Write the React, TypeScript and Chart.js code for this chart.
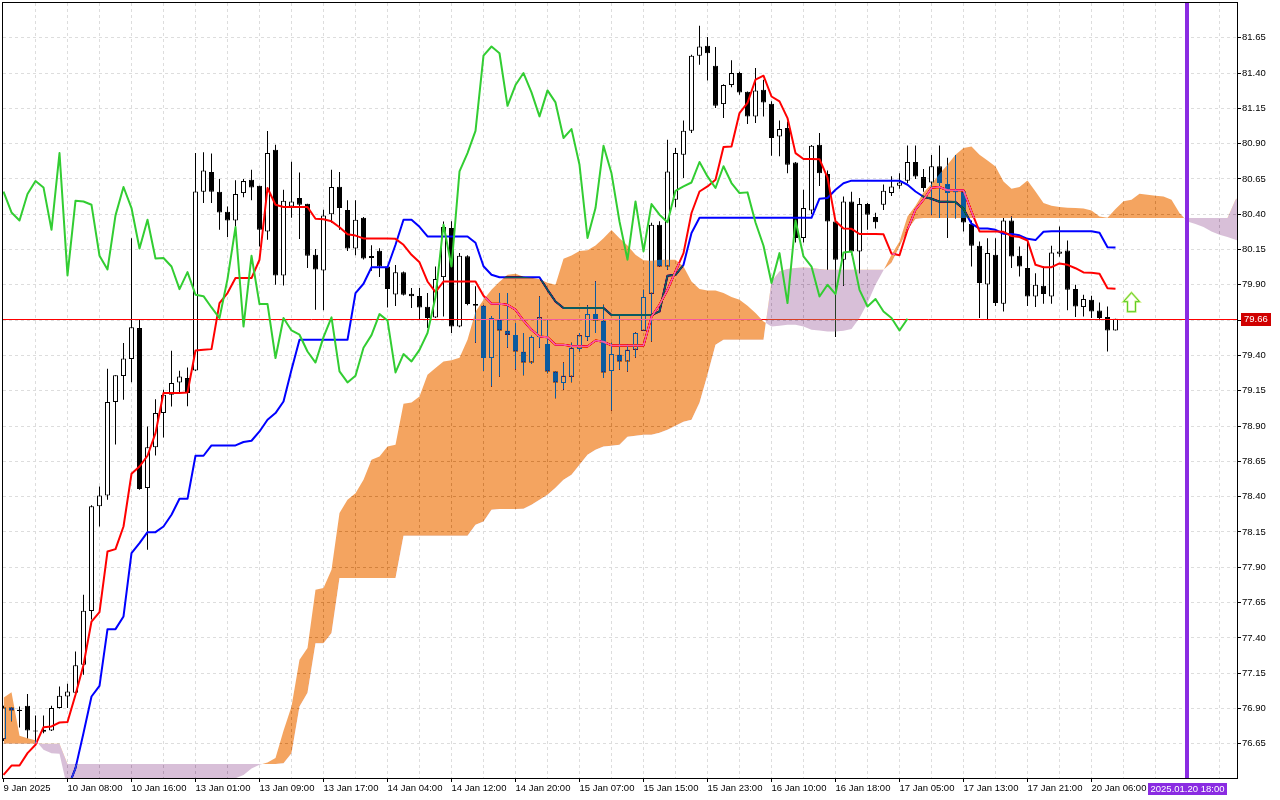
import React, { useEffect, useRef } from "react";
import { Chart, registerables } from "chart.js";

// ---------- data (hourly candles, index = bar number) ----------
const opens = [
  76.683, 76.907, 76.892, 76.919, 76.745, 76.735, 76.745, 76.903, 76.985, 77.012,
  77.21, 77.59, 78.333, 78.409, 79.07, 79.255, 79.375, 79.594, 78.461, 78.751,
  78.992, 79.122, 79.209, 79.24, 79.294, 80.56, 80.699, 80.56, 80.418, 80.356,
  80.55, 80.644, 80.602, 80.278, 80.857, 79.967, 80.455, 80.515, 80.474, 80.113,
  80.002, 80.4, 80.595, 80.43, 80.158, 80.375, 80.105, 80.142, 80.03, 79.832,
  79.99, 79.837, 79.822, 79.745, 79.669, 79.955, 80.302, 79.605, 80.103, 79.752,
  79.752, 79.382, 79.653, 79.575, 79.545, 79.426, 79.35, 79.53, 79.481, 79.287,
  79.205, 79.25, 79.445, 79.53, 79.693, 79.646, 79.29, 79.405, 79.357, 79.44,
  79.575, 79.837, 80.326, 80.03, 80.503, 80.821, 80.991, 81.523, 81.593, 81.452,
  81.18, 81.315, 81.4, 81.268, 81.093, 81.282, 81.183, 80.95, 81.01, 80.767,
  80.232, 80.427, 80.892, 80.685, 80.349, 80.078, 80.491, 80.137, 80.472, 80.38,
  80.467, 80.55, 80.602, 80.637, 80.77, 80.663, 80.625, 80.74, 80.614, 80.565,
  80.561, 80.333, 80.177, 79.903, 80.113, 79.766, 80.356, 80.106, 80.019, 79.818,
  79.894, 79.818, 80.12, 80.144, 79.87, 79.743, 79.794, 79.719, 79.672, 79.577,
];
const highs = [
  76.92, 76.91, 76.914, 77.002, 76.85, 76.85, 76.92, 77.056, 77.075, 77.304,
  77.705, 78.34, 78.472, 79.306, 79.26, 79.488, 80.23, 79.653, 78.897, 79.09,
  79.157, 79.433, 79.292, 79.315, 80.833, 80.84, 80.83, 80.65, 80.455, 80.64,
  80.65, 80.715, 80.602, 80.99, 80.892, 80.574, 80.772, 80.696, 80.475, 80.154,
  80.432, 80.715, 80.7, 80.5, 80.5, 80.38, 80.18, 80.16, 80.03, 80.04,
  79.995, 79.877, 79.877, 79.842, 80.03, 80.349, 80.35, 80.125, 80.11, 79.89,
  79.755, 79.68, 79.842, 79.842, 79.63, 79.56, 79.54, 79.818, 79.653, 79.29,
  79.35, 79.49, 79.56, 79.755, 79.925, 79.76, 79.49, 79.68, 79.477, 79.563,
  79.865, 80.34, 80.35, 80.928, 80.87, 81.064, 81.53, 81.735, 81.655, 81.584,
  81.32, 81.49, 81.41, 81.27, 81.435, 81.353, 81.2, 81.064, 81.057, 80.77,
  80.574, 80.89, 80.975, 80.71, 80.37, 80.526, 80.56, 80.515, 80.48, 80.41,
  80.61, 80.67, 80.69, 80.887, 80.887, 80.72, 80.82, 80.887, 80.8, 80.82,
  80.57, 80.355, 80.207, 80.23, 80.23, 80.373, 80.385, 80.172, 80.214, 79.983,
  80.03, 80.177, 80.314, 80.214, 79.9, 79.83, 79.823, 79.775, 79.746, 79.66,
];
const lows = [
  76.67, 76.81, 76.765, 76.69, 76.655, 76.725, 76.74, 76.9, 76.903, 77.009,
  77.139, 77.53, 78.189, 78.378, 78.77, 79.086, 79.21, 78.45, 78.024, 78.692,
  78.82, 79.039, 79.134, 79.04, 79.29, 80.48, 80.48, 80.29, 80.239, 80.3,
  80.52, 80.5, 80.172, 80.22, 79.9, 79.896, 80.375, 80.224, 80.019, 79.724,
  79.72, 80.34, 80.29, 80.14, 80.11, 80.08, 80.0, 79.955, 79.74, 79.75,
  79.825, 79.736, 79.653, 79.594, 79.665, 79.676, 79.559, 79.6, 79.755, 79.49,
  79.29, 79.18, 79.251, 79.455, 79.3, 79.26, 79.34, 79.455, 79.275, 79.098,
  79.157, 79.21, 79.43, 79.505, 79.56, 79.24, 79.01, 79.3, 79.287, 79.386,
  79.575, 79.499, 80.03, 80.007, 80.45, 80.656, 80.975, 81.459, 81.347, 81.152,
  81.081, 81.3, 81.246, 81.04, 81.046, 81.093, 80.814, 80.81, 80.69, 80.2,
  80.2, 80.4, 80.6, 80.007, 79.53, 79.894, 80.11, 79.983, 80.29, 80.3,
  80.43, 80.53, 80.58, 80.62, 80.65, 80.56, 80.396, 80.373, 80.232, 80.37,
  80.278, 80.03, 79.665, 79.653, 79.75, 79.712, 80.02, 79.96, 79.75, 79.743,
  79.766, 79.766, 80.1, 79.72, 79.672, 79.676, 79.665, 79.65, 79.428, 79.577,
];
const closes = [
  76.907, 76.886, 76.882, 76.744, 76.737, 76.75, 76.903, 76.99, 77.02, 77.207,
  77.592, 78.333, 78.409, 79.07, 79.26, 79.379, 79.6, 78.454, 78.751, 78.992,
  79.122, 79.205, 79.251, 79.134, 80.561, 80.71, 80.56, 80.413, 80.356, 80.543,
  80.635, 80.59, 80.29, 80.833, 79.967, 80.496, 80.49, 80.467, 80.106, 80.009,
  80.392, 80.593, 80.444, 80.158, 80.361, 80.087, 80.09, 80.03, 79.87, 79.99,
  79.83, 79.82, 79.74, 79.665, 79.941, 80.309, 79.605, 80.106, 79.764, 79.765,
  79.382, 79.665, 79.577, 79.547, 79.428, 79.35, 79.53, 79.67, 79.287, 79.209,
  79.256, 79.455, 79.544, 79.693, 79.648, 79.28, 79.41, 79.358, 79.44, 79.559,
  79.814, 80.326, 80.03, 80.703, 80.833, 80.991, 81.523, 81.588, 81.54, 81.168,
  81.315, 81.4, 81.263, 81.093, 81.277, 81.192, 80.94, 81.003, 80.75, 80.232,
  80.444, 80.885, 80.69, 80.349, 80.078, 80.491, 80.137, 80.472, 80.397, 80.344,
  80.566, 80.597, 80.625, 80.77, 80.668, 80.586, 80.74, 80.621, 80.55, 80.555,
  80.342, 80.177, 79.913, 80.125, 79.771, 80.356, 80.101, 80.03, 79.818, 79.901,
  79.835, 80.13, 80.137, 79.865, 79.747, 79.8, 79.712, 79.665, 79.577, 79.66,
];
// Tenkan-sen (red)
const tenkan = [
  76.43, 76.496, 76.496, 76.584, 76.643, 76.768, 76.773, 76.801, 76.804, 76.997,
  77.209, 77.516, 77.583, 78.012, 78.029, 78.189, 78.562, 78.614, 78.69, 78.85,
  79.134, 79.134, 79.134, 79.138, 79.435, 79.44, 79.445, 79.771, 79.842, 79.948,
  79.948, 79.948, 80.078, 80.586, 80.467, 80.451, 80.451, 80.451, 80.451, 80.368,
  80.365, 80.35, 80.308, 80.258, 80.249, 80.229, 80.229, 80.229, 80.229, 80.226,
  80.184, 80.113, 80.06, 79.924, 79.848, 79.924, 79.924, 79.924, 79.924, 79.924,
  79.823, 79.766, 79.766, 79.759, 79.724, 79.647, 79.582, 79.535, 79.529, 79.476,
  79.476, 79.467, 79.465, 79.464, 79.506, 79.497, 79.471, 79.471, 79.471, 79.471,
  79.471, 79.674, 79.759, 79.865, 79.996, 80.125, 80.409, 80.561, 80.597, 80.644,
  80.876, 80.88, 81.117, 81.188, 81.353, 81.381, 81.234, 81.199, 81.081, 80.833,
  80.791, 80.791, 80.79, 80.659, 80.35, 80.299, 80.297, 80.26, 80.26, 80.26,
  80.258, 80.122, 80.11, 80.29, 80.432, 80.503, 80.588, 80.593, 80.57, 80.57,
  80.57, 80.418, 80.278, 80.278, 80.278, 80.276, 80.246, 80.239, 80.214, 80.042,
  80.025, 80.025, 80.052, 80.042, 80.018, 79.988, 79.986, 79.979, 79.876, 79.872,
];
// Kijun-sen (blue)
const kijun = [
  76.3, 76.3, 76.3, 76.3, 76.3, 76.3, 76.3, 76.3, 76.33, 76.478,
  76.726, 76.985, 77.061, 77.462, 77.462, 77.552, 78.001, 78.071, 78.149, 78.149,
  78.189, 78.272, 78.385, 78.385, 78.69, 78.69, 78.763, 78.763, 78.763, 78.763,
  78.787, 78.796, 78.862, 78.945, 78.992, 79.074, 79.299, 79.511, 79.511, 79.511,
  79.511, 79.511, 79.511, 79.511, 79.842, 79.908, 80.025, 80.025, 80.025, 80.184,
  80.361, 80.361, 80.311, 80.243, 80.243, 80.243, 80.243, 80.243, 80.243, 80.198,
  80.032, 79.972, 79.954, 79.954, 79.954, 79.954, 79.954, 79.954, 79.865, 79.782,
  79.736, 79.736, 79.736, 79.736, 79.736, 79.736, 79.686, 79.686, 79.686, 79.686,
  79.686, 79.686, 79.712, 79.964, 79.971, 80.042, 80.267, 80.375, 80.375, 80.375,
  80.375, 80.375, 80.375, 80.375, 80.375, 80.375, 80.375, 80.375, 80.375, 80.375,
  80.375, 80.375, 80.51, 80.515, 80.574, 80.62, 80.638, 80.638, 80.638, 80.638,
  80.638, 80.638, 80.638, 80.609, 80.561, 80.524, 80.51, 80.489, 80.489, 80.486,
  80.439, 80.333, 80.299, 80.299, 80.29, 80.262, 80.26, 80.251, 80.226, 80.217,
  80.276, 80.28, 80.28, 80.28, 80.28, 80.28, 80.28, 80.269, 80.166, 80.165,
];
// Senkou span A (already shifted 26 bars forward)
const spanA = [
  76.976, 77.015, 76.707, 76.69, 76.675, 76.608, 76.584, 76.579, 76.33, 76.3,
  76.3, 76.3, 76.3, 76.3, 76.3, 76.3, 76.3, 76.3, 76.3, 76.3,
  76.3, 76.3, 76.3, 76.3, 76.3, 76.3, 76.3, 76.3, 76.3, 76.406,
  76.43, 76.475, 76.501, 76.518, 76.549, 76.742, 76.914, 77.245, 77.328, 77.741,
  77.753, 77.882, 78.284, 78.378, 78.425, 78.52, 78.661, 78.685, 78.756, 78.768,
  79.058, 79.067, 79.11, 79.263, 79.311, 79.358, 79.367, 79.384, 79.511, 79.709,
  79.794, 79.865, 79.922, 79.972, 79.979, 79.957, 79.95, 79.94, 79.915, 79.901,
  80.085, 80.108, 80.139, 80.145, 80.178, 80.231, 80.288, 80.231, 80.178, 80.113,
  80.074, 80.071, 80.078, 80.078, 80.078, 80.03, 79.924, 79.87, 79.86, 79.86,
  79.842, 79.814, 79.794, 79.752, 79.7, 79.641, 79.605, 79.61, 79.617, 79.617,
  79.605, 79.582, 79.577, 79.57, 79.57, 79.575, 79.587, 79.665, 79.771, 79.901,
  80.003, 80.113, 80.207, 80.384, 80.46, 80.554, 80.614, 80.685, 80.751, 80.821,
  80.869, 80.88, 80.821, 80.781, 80.739, 80.632, 80.581, 80.593, 80.639, 80.561,
  80.479, 80.46, 80.451, 80.446, 80.444, 80.441, 80.427, 80.384, 80.375, 80.437,
  80.493, 80.503, 80.545, 80.538, 80.531, 80.526, 80.503, 80.409, 80.349, 80.331,
  80.309, 80.278, 80.255, 80.239, 80.219, 80.2,
];
// Senkou span B (already shifted 26 bars forward)
const spanB = [
  76.65, 76.65, 76.65, 76.65, 76.65, 76.65, 76.65, 76.65, 76.508, 76.508,
  76.508, 76.508, 76.508, 76.508, 76.508, 76.508, 76.508, 76.508, 76.508, 76.508,
  76.508, 76.508, 76.508, 76.508, 76.508, 76.508, 76.508, 76.508, 76.508, 76.508,
  76.508, 76.508, 76.508, 76.508, 76.508, 76.513, 76.584, 76.914, 77.011, 77.363,
  77.363, 77.434, 77.824, 77.824, 77.824, 77.824, 77.824, 77.824, 77.824, 77.824,
  78.123, 78.123, 78.123, 78.123, 78.123, 78.123, 78.123, 78.123, 78.123, 78.201,
  78.224, 78.307, 78.312, 78.312, 78.312, 78.314, 78.343, 78.378, 78.413, 78.463,
  78.52, 78.555, 78.626, 78.697, 78.732, 78.756, 78.761, 78.768, 78.824, 78.831,
  78.838, 78.838, 78.853, 78.874, 78.902, 78.93, 78.945, 79.065, 79.263, 79.476,
  79.511, 79.511, 79.511, 79.511, 79.511, 79.511, 79.924, 79.995, 80.012, 80.019,
  80.023, 80.019, 80.012, 80.007, 80.007, 80.007, 80.007, 80.007, 80.007, 80.007,
  80.007, 80.057, 80.172, 80.29, 80.366, 80.373, 80.373, 80.373, 80.373, 80.373,
  80.373, 80.373, 80.373, 80.373, 80.373, 80.373, 80.373, 80.373, 80.373, 80.373,
  80.373, 80.373, 80.373, 80.373, 80.373, 80.373, 80.373, 80.373, 80.373, 80.373,
  80.373, 80.373, 80.373, 80.373, 80.373, 80.373, 80.373, 80.373, 80.373, 80.373,
  80.373, 80.373, 80.373, 80.373, 80.503, 80.55,
];
const CHIKOU_SHIFT = 26;

const xLabelBars = [0, 8, 16, 24, 32, 40, 48, 56, 64, 72, 80, 88, 96, 104, 112, 120, 128, 136];
const xTickLabels = [
  "9 Jan 2025", "10 Jan 08:00", "10 Jan 16:00", "13 Jan 01:00", "13 Jan 09:00", "13 Jan 17:00",
  "14 Jan 04:00", "14 Jan 12:00", "14 Jan 20:00", "15 Jan 07:00", "15 Jan 15:00", "15 Jan 23:00",
  "16 Jan 10:00", "16 Jan 18:00", "17 Jan 05:00", "17 Jan 13:00", "17 Jan 21:00", "20 Jan 06:00",
];
const yTicks = [
  76.65, 76.9, 77.15, 77.4, 77.65, 77.9, 78.15, 78.4, 78.65, 78.9, 79.15,
  79.4, 79.65, 79.9, 80.15, 80.4, 80.65, 80.9, 81.15, 81.4, 81.65,
];
const lastPrice = 79.66;
const markerBar = 148;
const markerLabel = "2025.01.20 18:00";
const arrowBar = 141;
const arrowTop = 79.845;
const arrowBottom = 79.71;

const X_MIN = -0.0625;
const X_MAX = 154.1875;
const Y_MIN = 76.408;
const Y_MAX = 81.896;

const FONT = "'Liberation Sans', Arial, sans-serif";

function drawPriceLine(chart: any) {
  const { ctx, chartArea: a, scales } = chart;
  const y = Math.round(scales.y.getPixelForValue(lastPrice)) + 0.5;
  ctx.save();
  ctx.globalCompositeOperation = "source-over";
  ctx.setLineDash([]);
  ctx.strokeStyle = "#ff0000";
  ctx.lineWidth = 1;
  ctx.beginPath();
  ctx.moveTo(a.left, y);
  ctx.lineTo(a.right, y);
  ctx.stroke();
  ctx.restore();
}

// Registered before the built-ins so that it runs ahead of the Filler plugin.
const blendPlugin = {
  id: "mtCloudBlend",
  beforeDraw(chart: any) {
    const ctx = chart.ctx;
    ctx.save();
    ctx.globalCompositeOperation = "source-over";
    ctx.fillStyle = "#ffffff";
    ctx.fillRect(0, 0, chart.width, chart.height);
    ctx.restore();
  },
  beforeDatasetDraw(chart: any, args: any) {
    const ds: any = chart.data.datasets[args.index];
    if (ds && ds.cloudBlend) {
      chart.ctx.globalCompositeOperation = "difference";
    }
  },
  afterDatasetDraw(chart: any, args: any) {
    chart.ctx.globalCompositeOperation = "source-over";
    const ds: any = chart.data.datasets[args.index];
    if (ds && ds.priceLineAfter) drawPriceLine(chart);
  },
};
Chart.register(blendPlugin as any);
Chart.register(...registerables);

const overlayPlugin = {
  id: "mtOverlay",
  afterDraw(chart: any) {
    const { ctx, chartArea: a, scales } = chart;
    const x = scales.x;
    const y = scales.y;
    ctx.save();
    ctx.globalCompositeOperation = "source-over";
    // vertical marker
    const mx = Math.floor(x.getPixelForValue(markerBar));
    ctx.fillStyle = "#8a2be2";
    ctx.fillRect(mx - 2, a.top, 4, a.bottom - a.top);
    // arrow
    const ax = x.getPixelForValue(arrowBar);
    const at = y.getPixelForValue(arrowTop);
    const ab = y.getPixelForValue(arrowBottom);
    const hw = 8, sw = 4, hh = 9;
    ctx.beginPath();
    ctx.moveTo(ax, at);
    ctx.lineTo(ax + hw, at + hh);
    ctx.lineTo(ax + sw, at + hh);
    ctx.lineTo(ax + sw, ab);
    ctx.lineTo(ax - sw, ab);
    ctx.lineTo(ax - sw, at + hh);
    ctx.lineTo(ax - hw, at + hh);
    ctx.closePath();
    ctx.lineJoin = "miter";
    ctx.lineWidth = 2.2;
    ctx.strokeStyle = "rgb(205,240,130)";
    ctx.stroke();
    ctx.lineWidth = 1;
    ctx.strokeStyle = "rgb(90,205,40)";
    ctx.stroke();
    // frame
    ctx.strokeStyle = "#000000";
    ctx.lineWidth = 1;
    ctx.strokeRect(a.left - 0.5, a.top - 0.5, a.right - a.left + 1, a.bottom - a.top + 1);
    // price label
    const py = Math.round(y.getPixelForValue(lastPrice));
    ctx.fillStyle = "#d00000";
    ctx.fillRect(a.right + 4, py - 6, 30, 13);
    ctx.fillStyle = "#ffffff";
    ctx.font = `9.5px ${FONT}`;
    ctx.textBaseline = "middle";
    ctx.textAlign = "left";
    ctx.fillText(lastPrice.toFixed(2), a.right + 7, py + 0.5);
    // marker date label
    ctx.fillStyle = "#8a2be2";
    ctx.fillRect(mx - 39, a.bottom + 5, 79, 12);
    ctx.fillStyle = "#ffffff";
    ctx.textAlign = "center";
    ctx.fillText(markerLabel, mx + 0.5, a.bottom + 11.5);
    ctx.restore();
  },
};

const bars = opens.map((_, i) => i);
const gridBars = Array.from({ length: 39 }, (_, k) => k * 4);

function buildConfig(): any {
  const wickData = bars.map((i) => ({ x: i, y: [lows[i], highs[i]] }));
  const bodyData = bars.map((i) => ({ x: i, y: [opens[i], closes[i]] }));
  const bodyFill = bars.map((i) => (closes[i] >= opens[i] ? "#ffffff" : "#000000"));
  const line = (arr: number[]) => arr.map((v, i) => ({ x: i, y: v }));
  const chikou = closes.slice(CHIKOU_SHIFT).map((c, i) => ({ x: i, y: c }));

  const lineBase = {
    type: "line",
    pointRadius: 0,
    pointHoverRadius: 0,
    tension: 0,
    clip: 0,
    borderCapStyle: "butt",
    borderJoinStyle: "round",
  };

  return {
    type: "line",
    data: {
      datasets: [
        {
          type: "bar",
          label: "wicks",
          data: wickData,
          backgroundColor: "#000000",
          borderColor: "#000000",
          borderWidth: 0,
          barThickness: 1,
          grouped: false,
          inflateAmount: 0,
          order: 7,
        },
        {
          type: "bar",
          label: "bodies",
          data: bodyData,
          backgroundColor: bodyFill,
          borderColor: "#000000",
          borderWidth: 1,
          borderSkipped: false,
          barThickness: 5,
          grouped: false,
          inflateAmount: 0,
          order: 6,
        },
        {
          ...lineBase,
          label: "Kijun",
          data: line(kijun),
          borderColor: "#0000ff",
          backgroundColor: "#0000ff",
          borderWidth: 2,
          fill: false,
          order: 5,
        },
        {
          ...lineBase,
          label: "Tenkan",
          data: line(tenkan),
          borderColor: "#ff0000",
          backgroundColor: "#ff0000",
          borderWidth: 2,
          fill: false,
          priceLineAfter: true,
          order: 4,
        },
        {
          ...lineBase,
          label: "SpanB",
          data: line(spanB),
          borderColor: "rgba(0,0,0,0)",
          backgroundColor: "rgba(0,0,0,0)",
          borderWidth: 0,
          fill: false,
          order: 3,
        },
        {
          ...lineBase,
          label: "SpanA",
          data: line(spanA),
          borderColor: "rgba(0,0,0,0)",
          backgroundColor: "rgba(0,0,0,0)",
          borderWidth: 0,
          cloudBlend: true,
          // drawn with 'difference': over white these give sandybrown / thistle
          fill: { target: 4, above: "rgb(11,91,159)", below: "rgb(39,64,39)" },
          order: 2,
        },
        {
          ...lineBase,
          label: "Chikou",
          data: chikou,
          borderColor: "rgb(50,205,50)",
          backgroundColor: "rgb(50,205,50)",
          borderWidth: 2,
          fill: false,
          order: 1,
        },
      ],
    },
    options: {
      animation: false,
      responsive: false,
      events: [],
      layout: { padding: { left: 3, top: 3, right: 0, bottom: 0 } },
      plugins: {
        legend: { display: false },
        tooltip: { enabled: false },
        colors: { enabled: false },
        filler: { propagate: false },
      },
      scales: {
        x: {
          type: "linear",
          min: X_MIN,
          max: X_MAX,
          offset: false,
          afterBuildTicks: (s: any) => {
            s.ticks = gridBars.map((v) => ({ value: v }));
          },
          afterFit: (s: any) => {
            s.height = 22;
            s.paddingLeft = 0;
            s.paddingRight = 0;
          },
          ticks: {
            autoSkip: false,
            maxRotation: 0,
            minRotation: 0,
            align: "start",
            padding: 1,
            color: "#000000",
            font: { family: FONT, size: 9.5 },
            callback: (v: any) => {
              const k = xLabelBars.indexOf(Number(v));
              return k >= 0 ? xTickLabels[k] : "";
            },
          },
          grid: {
            offset: false,
            color: (c: any) => (c.tick && c.tick.value === 0 ? "rgba(0,0,0,0)" : "#dddddd"),
            lineWidth: 1,
            drawTicks: true,
            tickLength: 4,
            tickColor: (c: any) =>
              c.tick && xLabelBars.indexOf(c.tick.value) >= 0 ? "#000000" : "rgba(0,0,0,0)",
          },
          border: { display: false, dash: [3, 3] },
        },
        y: {
          type: "linear",
          position: "right",
          min: Y_MIN,
          max: Y_MAX,
          afterBuildTicks: (s: any) => {
            s.ticks = yTicks.map((v) => ({ value: v }));
          },
          afterFit: (s: any) => {
            s.width = 43;
            s.paddingTop = 0;
            s.paddingBottom = 0;
          },
          ticks: {
            autoSkip: false,
            padding: 1,
            color: "#000000",
            font: { family: FONT, size: 9.5 },
            callback: (v: any) => Number(v).toFixed(2),
          },
          grid: {
            color: "#dddddd",
            lineWidth: 1,
            drawTicks: true,
            tickLength: 4,
            tickColor: "#000000",
          },
          border: { display: false, dash: [3, 3] },
        },
      },
    },
    plugins: [overlayPlugin],
  };
}

export default function App() {
  const ref = useRef<HTMLCanvasElement | null>(null);
  useEffect(() => {
    document.body.style.margin = "0";
    document.body.style.overflow = "hidden";
    if (!ref.current) return;
    const chart = new Chart(ref.current, buildConfig());
    return () => chart.destroy();
  }, []);
  return (
    <div style={{ width: 1280, height: 800, background: "#ffffff" }}>
      <canvas ref={ref} width={1280} height={800} style={{ display: "block", width: 1280, height: 800 }} />
    </div>
  );
}
